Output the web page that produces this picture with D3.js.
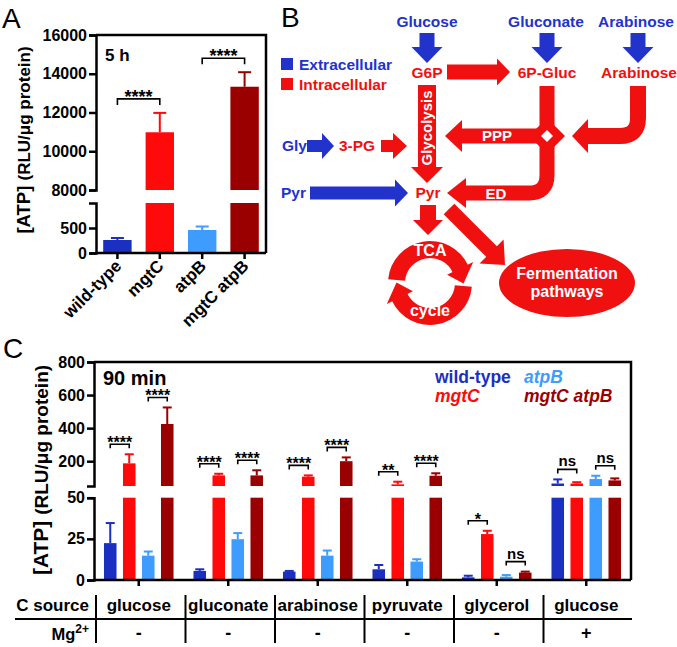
<!DOCTYPE html>
<html><head><meta charset="utf-8">
<script src="https://cdn.jsdelivr.net/npm/d3@7"></script>
<style>
html,body{margin:0;padding:0;background:#fff;}
svg{display:block;font-family:"Liberation Sans",Arial,sans-serif;}
</style></head>
<body>
<svg id="fig" width="677" height="647"></svg>
<script>
// ---------------- DATA ----------------
// Panel A (5 h)
const strainsA = ["wild-type", "mgtC", "atpB", "mgtC atpB"];
const atp5h = [260, 10980, 460, 13330];
const atp5hErr = [40, 1000, 70, 750];
const sigA = [{pair: [0, 1], label: "****"}, {pair: [2, 3], label: "****"}];
const ticksAUpper = [8000, 10000, 12000, 14000, 16000];
const ticksALower = [0, 500];

// Panel C (90 min)
const carbonSources = ["glucose", "gluconate", "arabinose", "pyruvate", "glycerol", "glucose"];
const mgStatus = ["-", "-", "-", "-", "-", "+"];
const strainsC = ["wild-type", "mgtC", "atpB", "mgtC atpB"];
const wildType = [22.4, 5.5, 5.1, 6.5, 1.6, 65];
const wildTypeErr = [12.2, 1.0, 0.4, 2.6, 1.0, 25];
const mgtC = [187, 114, 106, 60, 27.9, 65];
const mgtCErr = [55, 10, 8, 16, 2.0, 8];
const atpB = [14.8, 24.8, 14.8, 11.2, 2.0, 92];
const atpBErr = [2.5, 3.7, 3.1, 1.4, 1.0, 20];
const mgtCatpB = [425, 114, 200, 112, 4.5, 84];
const mgtCatpBErr = [100, 31, 23, 15, 0.6, 12];
const sigWtVsMgtC = ["****", "****", "****", "**", "*", "ns"];
const sigAtpBVsDouble = ["****", "****", "****", "****", "ns", "ns"];
const ticksCUpper = [200, 400, 600, 800];
const ticksCLower = [0, 25, 50];

// ---------------- STYLE ----------------
const colors = {"wild-type": "#1b2fc0", "mgtC": "#ff0a0a", "atpB": "#3f9cff", "mgtC atpB": "#9a0000"};
const diagBlue = "#2233cc", diagRed = "#f01010";
const svg = d3.select("#fig");
svg.append("rect").attr("width", 677).attr("height", 647).attr("fill", "#fff");

function styleAxis(g, fs) {
  g.selectAll("path,line").attr("stroke", "#000").attr("stroke-width", 2.5);
  g.selectAll("text").attr("fill", "#000").style("font-size", fs + "px").style("font-weight", "bold")
    .style("font-family", "'Liberation Sans',Arial,sans-serif");
}

// ---------------- PANEL A ----------------
const A = {left: 96, right: 266, top: 35, bottom: 253};
const xA = d3.scaleBand().domain(strainsA).range([A.left, A.right]).paddingInner(0.33).paddingOuter(0.17);
const yALow = d3.scaleLinear().domain([0, 1000]).range([253, 203]);
const yAHigh = d3.scaleLinear().domain([8000, 16000]).range([190, 35]);
const gA = svg.append("g");

gA.append("text").attr("x", 2).attr("y", 28).text("A").style("font-size", "28px");

gA.append("path").attr("d", `M${A.left},${A.top}H${A.right}V${A.bottom}`).attr("fill", "none").attr("stroke", "#000").attr("stroke-width", 2.5);

strainsA.forEach((s, i) => {
  const v = atp5h[i], x = xA(s), w = xA.bandwidth(), c = colors[s];
  if (v <= 1000) {
    gA.append("rect").attr("x", x).attr("y", yALow(v)).attr("width", w).attr("height", yALow(0) - yALow(v)).attr("fill", c);
  } else {
    gA.append("rect").attr("x", x).attr("y", yALow(1000)).attr("width", w).attr("height", yALow(0) - yALow(1000)).attr("fill", c);
    gA.append("rect").attr("x", x).attr("y", yAHigh(v)).attr("width", w).attr("height", yAHigh(8000) - yAHigh(v)).attr("fill", c);
  }
  const ys = v <= 1000 ? yALow : yAHigh;
  const cx = x + w / 2, y0 = ys(v), y1 = ys(v + atp5hErr[i]);
  gA.append("line").attr("x1", cx).attr("x2", cx).attr("y1", y0).attr("y2", y1).attr("stroke", c).attr("stroke-width", 2);
  gA.append("line").attr("x1", cx - 6.5).attr("x2", cx + 6.5).attr("y1", y1).attr("y2", y1).attr("stroke", c).attr("stroke-width", 2);
});

const axAU = gA.append("g").attr("transform", `translate(${A.left},0)`)
  .call(d3.axisLeft(yAHigh).tickValues(ticksAUpper).tickSize(7).tickSizeOuter(7).tickPadding(2).tickFormat(d3.format("d")));
styleAxis(axAU, 16);
const axAL = gA.append("g").attr("transform", `translate(${A.left},0)`)
  .call(d3.axisLeft(yALow).tickValues(ticksALower).tickSize(7).tickSizeOuter(7).tickPadding(2).tickFormat(d3.format("d")));
styleAxis(axAL, 16);
const axAB = gA.append("g").attr("transform", `translate(0,${A.bottom})`)
  .call(d3.axisBottom(xA).tickSize(6).tickSizeOuter(0).tickFormat(""));
styleAxis(axAB, 16);
axAB.select(".domain").attr("d", `M${A.left},0H${A.right}`);

strainsA.forEach(s => {
  const cx = xA(s) + xA.bandwidth() / 2;
  gA.append("text").attr("transform", `translate(${cx + 5},267) rotate(-45)`).attr("text-anchor", "end")
    .style("font-size", "17px").style("font-weight", "bold").text(s);
});

const ylA = gA.append("text").attr("transform", "translate(30,140) rotate(-90)").attr("text-anchor", "middle").style("font-weight", "bold");
ylA.append("tspan").style("font-size", "18.5px").text("[ATP] ");
ylA.append("tspan").style("font-size", "17px").text("(RLU/μg protein)");

gA.append("text").attr("x", 105).attr("y", 61).style("font-size", "17px").style("font-weight", "bold").text("5 h");

sigA.forEach(sg => {
  const [i, j] = sg.pair;
  const tops = [i, j].map(k => (atp5h[k] <= 1000 ? yALow : yAHigh)(atp5h[k] + atp5hErr[k]));
  const yb = Math.min(...tops) - 14;
  const x1 = xA(strainsA[i]) + xA.bandwidth() / 2, x2 = xA(strainsA[j]) + xA.bandwidth() / 2;
  gA.append("path").attr("d", `M${x1},${yb + 6}V${yb}H${x2}V${yb + 6}`).attr("fill", "none").attr("stroke", "#000").attr("stroke-width", 1.6);
  gA.append("text").attr("x", (x1 + x2) / 2).attr("y", yb + 4).attr("text-anchor", "middle").style("font-size", "18px").style("font-weight", "bold").text(sg.label);
});

// ---------------- PANEL B (diagram) ----------------
const gB = svg.append("g");
gB.append("text").attr("x", 281).attr("y", 27).text("B").style("font-size", "28px");

function arrowPts(x0, y0, x1, y1, sw, hw, hl) {
  const L = Math.hypot(x1 - x0, y1 - y0), ux = (x1 - x0) / L, uy = (y1 - y0) / L, px = -uy, py = ux;
  const bx = x1 - ux * hl, by = y1 - uy * hl;
  return [[x0 + px * sw / 2, y0 + py * sw / 2], [bx + px * sw / 2, by + py * sw / 2], [bx + px * hw / 2, by + py * hw / 2], [x1, y1],
          [bx - px * hw / 2, by - py * hw / 2], [bx - px * sw / 2, by - py * sw / 2], [x0 - px * sw / 2, y0 - py * sw / 2]];
}
function arrow(a, color) {
  gB.append("polygon").attr("points", arrowPts(...a).map(p => p.join(",")).join(" ")).attr("fill", color);
}
function label(x, y, t, color, anchor, fs) {
  return gB.append("text").attr("x", x).attr("y", y).attr("text-anchor", anchor || "middle").attr("fill", color)
    .style("font-size", (fs || 15.5) + "px").style("font-weight", "bold").text(t);
}

label(427, 27, "Glucose", diagBlue);
label(546, 27, "Gluconate", diagBlue);
label(636, 27, "Arabinose", diagBlue);
arrow([427, 33, 427, 63, 15, 31, 16], diagBlue);
arrow([547, 33, 547, 63, 15, 31, 16], diagBlue);
arrow([638, 33, 638, 63, 15, 31, 16], diagBlue);

gB.append("rect").attr("x", 281).attr("y", 58).attr("width", 12).attr("height", 12).attr("fill", diagBlue);
gB.append("rect").attr("x", 281).attr("y", 78).attr("width", 12).attr("height", 12).attr("fill", diagRed);
label(299, 70, "Extracellular", diagBlue, "start");
label(299, 90, "Intracellular", diagRed, "start");

label(427, 78, "G6P", diagRed);
label(547, 78, "6P-Gluc", diagRed);
label(639, 78, "Arabinose", diagRed);
arrow([447, 72, 510, 72, 15, 27, 13], diagRed);

gB.append("path").attr("d", "M547,86 V175 Q547,193 529,193 H466").attr("fill", "none").attr("stroke", diagRed).attr("stroke-width", 15);
gB.append("polygon").attr("points", "466,178 447,193 466,208").attr("fill", diagRed);
gB.append("path").attr("d", "M547,136 H461").attr("fill", "none").attr("stroke", diagRed).attr("stroke-width", 15);
gB.append("polygon").attr("points", "462,120 445,136 462,152").attr("fill", diagRed);
gB.append("path").attr("d", "M638,86 V118 Q638,136 620,136 H587").attr("fill", "none").attr("stroke", diagRed).attr("stroke-width", 16);
gB.append("polygon").attr("points", "588,119 572,136 588,153").attr("fill", diagRed);
gB.append("polygon").attr("points", "547,118 565,136 547,154 529,136").attr("fill", diagRed);
gB.append("polygon").attr("points", "547,130 553,136 547,142 541,136").attr("fill", "#fff");
label(497, 141, "PPP", "#fff", "middle", 15);
label(496, 199, "ED", "#fff", "middle", 15);

arrow([427, 85, 427, 183, 18, 32, 16], diagRed);
gB.append("text").attr("transform", "translate(432,128) rotate(-90)").attr("text-anchor", "middle").attr("fill", "#fff")
  .style("font-size", "15px").style("font-weight", "bold").text("Glycolysis");

label(282, 151, "Gly", diagBlue, "start");
arrow([307, 146, 334, 146, 12, 26, 12], diagBlue);
label(339, 151, "3-PG", diagRed, "start");
arrow([381, 146, 407, 146, 12, 26, 14], diagRed);

label(281, 198, "Pyr", diagBlue, "start");
arrow([310, 193, 408, 193, 13, 27, 13], diagBlue);
label(428, 198, "Pyr", diagRed);
arrow([428, 205, 428, 235, 16, 30, 15], diagRed);
arrow([449, 209, 505, 265, 15, 34, 19], diagRed);

const tc = [430, 283], rIn = 25, rOut = 42;
const arcG = d3.arc().innerRadius(rIn).outerRadius(rOut);
const pol = (r, a) => [tc[0] + r * Math.sin(a), tc[1] - r * Math.cos(a)];
const deg = d => d * Math.PI / 180;
[[95, 245], [275, 65]].forEach(([s, e]) => {
  const ee = e < s ? e + 360 : e;
  gB.append("path").attr("transform", `translate(${tc[0]},${tc[1]})`).attr("d", arcG({startAngle: deg(s), endAngle: deg(ee)})).attr("fill", diagRed);
  const rm = (rIn + rOut) / 2;
  const pts = [pol(rIn - 6, deg(ee - 1)), pol(rOut + 6, deg(ee - 1)), pol(rm, deg(ee + 26))];
  gB.append("polygon").attr("points", pts.map(p => p.join(",")).join(" ")).attr("fill", diagRed);
});
label(430, 256, "TCA", "#fff", "middle", 16);
label(430, 316, "cycle", "#fff", "middle", 16);

gB.append("ellipse").attr("cx", 567).attr("cy", 283).attr("rx", 68).attr("ry", 34).attr("fill", diagRed);
label(567, 279, "Fermentation", "#fff", "middle", 16);
label(567, 297, "pathways", "#fff", "middle", 16);

// ---------------- PANEL C ----------------
const C = {left: 94, right: 631, top: 362, bottom: 580};
const gC = svg.append("g");
gC.append("text").attr("x", 3).attr("y", 358).text("C").style("font-size", "28px");
const groupIds = carbonSources.map((c, i) => i);
const xC = d3.scaleBand().domain(groupIds).range([C.left, C.right]);
const xInner = d3.scaleBand().domain(strainsC).range([-38, 38]).paddingInner(0.34).paddingOuter(0.17);
const yCLow = d3.scaleLinear().domain([0, 50]).range([580, 497.7]);
const yCHigh = d3.scaleLinear().domain([50, 800]).range([486, 362]);
const seriesC = {"wild-type": [wildType, wildTypeErr], "mgtC": [mgtC, mgtCErr], "atpB": [atpB, atpBErr], "mgtC atpB": [mgtCatpB, mgtCatpBErr]};

gC.append("path").attr("d", `M${C.left},${C.top}H${C.right}V${C.bottom}`).attr("fill", "none").attr("stroke", "#000").attr("stroke-width", 2.5);

const errTopPx = (s, g) => {
  const [vals, errs] = seriesC[s]; const v = vals[g], e = errs[g];
  return (v > 50 ? yCHigh : yCLow)(v + e);
};

groupIds.forEach(g => {
  const gc = xC(g) + xC.bandwidth() / 2;
  strainsC.forEach(s => {
    const [vals, errs] = seriesC[s];
    const v = vals[g], e = errs[g], c = colors[s];
    const x = gc + xInner(s), w = xInner.bandwidth(), cx = x + w / 2;
    if (v <= 50) {
      gC.append("rect").attr("x", x).attr("y", yCLow(v)).attr("width", w).attr("height", yCLow(0) - yCLow(v)).attr("fill", c);
    } else {
      gC.append("rect").attr("x", x).attr("y", yCLow(50)).attr("width", w).attr("height", yCLow(0) - yCLow(50)).attr("fill", c);
      gC.append("rect").attr("x", x).attr("y", yCHigh(v)).attr("width", w).attr("height", yCHigh(50) - yCHigh(v)).attr("fill", c);
    }
    const ys = v > 50 ? yCHigh : yCLow;
    const y0 = ys(v), y1 = ys(v + e);
    gC.append("line").attr("x1", cx).attr("x2", cx).attr("y1", y0).attr("y2", y1).attr("stroke", c).attr("stroke-width", 2);
    gC.append("line").attr("x1", cx - 4.5).attr("x2", cx + 4.5).attr("y1", y1).attr("y2", y1).attr("stroke", c).attr("stroke-width", 2);
  });
  [[["wild-type", "mgtC"], sigWtVsMgtC[g]], [["atpB", "mgtC atpB"], sigAtpBVsDouble[g]]].forEach(([pair, lab]) => {
    const yb = Math.min(errTopPx(pair[0], g), errTopPx(pair[1], g)) - 10;
    const x1 = gc + xInner(pair[0]) + xInner.bandwidth() / 2, x2 = gc + xInner(pair[1]) + xInner.bandwidth() / 2;
    gC.append("path").attr("d", `M${x1},${yb + 4}V${yb}H${x2}V${yb + 4}`).attr("fill", "none").attr("stroke", "#000").attr("stroke-width", 1.6);
    const isNs = lab === "ns";
    gC.append("text").attr("x", (x1 + x2) / 2).attr("y", isNs ? yb - 3 : yb + 4).attr("text-anchor", "middle")
      .style("font-size", isNs ? "15px" : "16px").style("font-weight", "bold").text(lab);
  });
});

const axCU = gC.append("g").attr("transform", `translate(${C.left},0)`)
  .call(d3.axisLeft(yCHigh).tickValues(ticksCUpper).tickSize(7).tickSizeOuter(7).tickPadding(2).tickFormat(d3.format("d")));
styleAxis(axCU, 16);
const axCL = gC.append("g").attr("transform", `translate(${C.left},0)`)
  .call(d3.axisLeft(yCLow).tickValues(ticksCLower).tickSize(7).tickSizeOuter(7).tickPadding(2).tickFormat(d3.format("d")));
styleAxis(axCL, 16);
const axCB = gC.append("g").attr("transform", `translate(0,${C.bottom})`)
  .call(d3.axisBottom(xC).tickSize(6).tickSizeOuter(0).tickFormat(""));
styleAxis(axCB, 16);
axCB.select(".domain").attr("d", `M${C.left},0H${C.right}`);

const ylC = gC.append("text").attr("transform", "translate(48,470) rotate(-90)").attr("text-anchor", "middle").style("font-weight", "bold");
ylC.append("tspan").style("font-size", "21px").text("[ATP] ");
ylC.append("tspan").style("font-size", "19px").text("(RLU/μg protein)");

gC.append("text").attr("x", 103).attr("y", 385).style("font-size", "20px").style("font-weight", "bold").text("90 min");

const legPos = [[435, 383], [435, 402], [524, 383], [524, 402]];
strainsC.forEach((s, i) => {
  gC.append("text").attr("x", legPos[i][0]).attr("y", legPos[i][1]).attr("fill", colors[s])
    .style("font-size", "17.5px").style("font-weight", "bold").style("font-style", s === "wild-type" ? "normal" : "italic").text(s);
});

// table
const gT = svg.append("g").style("font-weight", "bold");
gT.append("text").attr("x", 89).attr("y", 611).attr("text-anchor", "end").style("font-size", "17px").text("C source");
const mgT = gT.append("text").attr("x", 89).attr("y", 640).attr("text-anchor", "end").style("font-size", "16.5px");
mgT.append("tspan").text("Mg");
mgT.append("tspan").attr("dy", -7).style("font-size", "12px").text("2+");
gT.append("line").attr("x1", 15).attr("x2", 632).attr("y1", 619).attr("y2", 619).attr("stroke", "#000").attr("stroke-width", 2);
groupIds.forEach(g => {
  const x0 = xC(g), gc = x0 + xC.bandwidth() / 2;
  gT.append("line").attr("x1", x0 + 2).attr("x2", x0 + 2).attr("y1", 595).attr("y2", 643).attr("stroke", "#000").attr("stroke-width", 2);
  gT.append("text").attr("x", gc).attr("y", 611).attr("text-anchor", "middle").style("font-size", "17px").text(carbonSources[g]);
  gT.append("text").attr("x", gc).attr("y", 639).attr("text-anchor", "middle").style("font-size", "18px").text(mgStatus[g]);
});
</script>
</body></html>
